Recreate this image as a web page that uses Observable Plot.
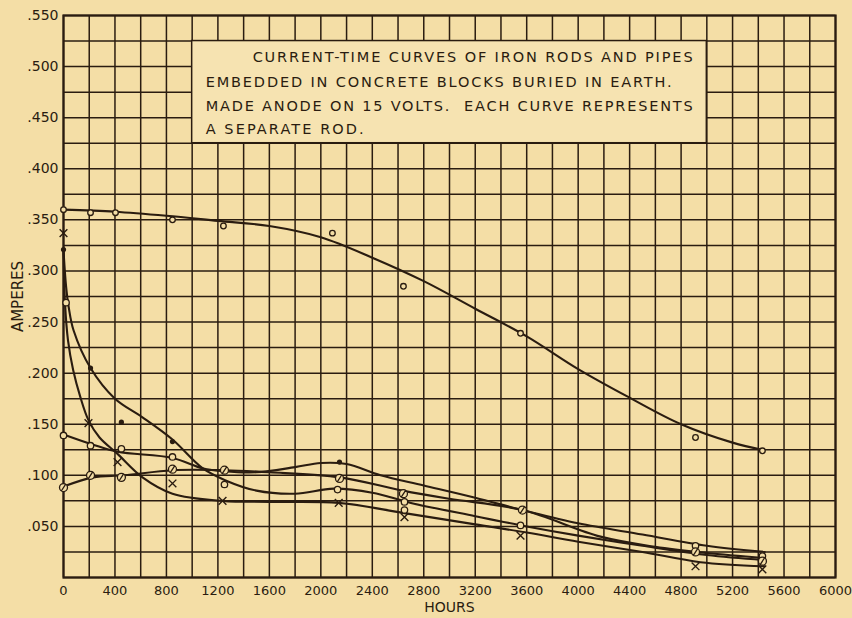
<!DOCTYPE html>
<html>
<head>
<meta charset="utf-8">
<script src="https://cdn.jsdelivr.net/npm/d3@7"></script>
<script src="https://cdn.jsdelivr.net/npm/@observablehq/plot@0.6"></script>
<style>
  html, body { margin: 0; padding: 0; background: #f4dea6; }
  #chart svg { display: block; }
</style>
</head>
<body>
<div id="chart"></div>
<script>
// ---- tick labels / grid ----
const hourTicks = d3.range(0, 6001, 400);
const ampTicks = d3.range(50, 551, 50).map(d => d / 1000);
const hourGrid = d3.range(0, 6001, 200);
const ampGrid = d3.range(0, 551, 25).map(d => d / 1000);

// ---- smooth curves (hours, amperes) ----
const curveTop = [[0,.360],[400,.358],[800,.354],[1200,.349],[1600,.344],[2000,.333],[2400,.313],[2800,.290],[3200,.263],[3600,.236],[4000,.204],[4400,.176],[4800,.150],[5200,.132],[5430,.125]];
const curveDot = [[0,.320],[20,.285],[40,.265],[78,.242],[210,.205],[400,.175],[611,.157],[847,.135],[1080,.107],[1260,.095],[1500,.085],[1800,.082],[2100,.087],[2400,.083],[2700,.073],[3200,.060],[3600,.050],[4000,.041],[4500,.031],[5000,.022],[5450,.017]];
const curveRing = [[0,.140],[230,.130],[420,.123],[847,.117],[1080,.107],[1250,.104],[1500,.103],[1800,.108],[2000,.112],[2200,.111],[2464,.100],[2800,.090],[3200,.078],[3567,.066],[4000,.053],[4500,.042],[5000,.031],[5450,.025]];
const curveSlash = [[0,.089],[230,.098],[470,.100],[847,.105],[1250,.105],[1600,.103],[2150,.098],[2635,.085],[3000,.077],[3567,.066],[4174,.040],[4600,.030],[5000,.024],[5450,.019]];
const curveCross = [[0,.320],[12,.268],[35,.232],[75,.203],[130,.177],[194,.154],[280,.137],[420,.121],[614,.098],[847,.082],[1236,.075],[1600,.074],[2139,.073],[2650,.063],[3200,.052],[3600,.044],[4000,.035],[4500,.025],[4950,.015],[5450,.011]];

// ---- observed points ----
const ptsTop = [[0,.360],[210,.357],[404,.357],[847,.350],[1243,.344],[2090,.337],[2642,.285],[3552,.239],[4912,.137],[5432,.124]];
const ptsDot = [[0,.321],[210,.205],[450,.152],[847,.133],[2145,.113]];
const ptsRing = [[0,.139],[210,.129],[450,.126],[847,.118],[1251,.091],[2130,.086],[2650,.066],[3552,.051],[4912,.031],[5432,.021],[20,.269],[2650,.074]];
const ptsSlash = [[0,.088],[210,.100],[450,.098],[847,.106],[1251,.105],[2145,.097],[2642,.082],[3567,.066],[4912,.025],[5432,.016]];
const ptsCross = [[0,.337],[194,.151],[420,.113],[847,.092],[1236,.075],[2139,.073],[2650,.059],[3552,.041],[4912,.011],[5432,.008]];

// ---- text ----
const titleLines = [
  "CURRENT-TIME CURVES OF IRON RODS AND PIPES",
  "EMBEDDED IN CONCRETE BLOCKS BURIED IN EARTH.",
  "MADE ANODE ON 15 VOLTS.  EACH CURVE REPRESENTS",
  "A SEPARATE ROD."
];
const titleWidths = [440, 466, 487, 158];
const titleBox = [{x1: 1000, x2: 5000, y1: 0.425, y2: 0.525}];
const titleX = [1470, 1105, 1105, 1105];
const titleY = [0.509, 0.4845, 0.4615, 0.439];

const ink = "#2a1c10";
const paper = "#f4dea6";
const font = "DejaVu Sans, sans-serif";

const slashCircle = {
  draw(ctx, size) {
    const r = Math.sqrt(size / Math.PI);
    ctx.moveTo(r, 0);
    ctx.arc(0, 0, r, 0, 2 * Math.PI);
    ctx.moveTo(-r * 0.55, r * 0.85);
    ctx.lineTo(r * 0.55, -r * 0.85);
  }
};

const X = d => d[0], Y = d => d[1];
const lineOpts = {x: X, y: Y, curve: "catmull-rom", stroke: ink, strokeWidth: 2.1};

const chart = Plot.plot({
  width: 852,
  height: 618,
  marginLeft: 63,
  marginRight: 17,
  marginTop: 15,
  marginBottom: 41,
  style: {background: paper, fontFamily: font, color: ink},
  x: {domain: [0, 6000], ticks: hourTicks},
  y: {domain: [0, 0.55], ticks: ampTicks},
  marks: [
    Plot.ruleX(hourGrid, {stroke: ink, strokeWidth: 1.5}),
    Plot.ruleY(ampGrid, {stroke: ink, strokeWidth: 1.5}),
    Plot.rect(titleBox, {x1: "x1", x2: "x2", y1: "y1", y2: "y2", fill: "#f6e3b1", stroke: ink, strokeWidth: 1.5}),
    Plot.text(titleLines, {x: (d, i) => titleX[i], y: (d, i) => titleY[i], text: d => d, textAnchor: "start", fontSize: 14.5, fill: ink}),
    Plot.frame({stroke: ink, strokeWidth: 2.2}),
    Plot.line(curveTop, lineOpts),
    Plot.line(curveDot, lineOpts),
    Plot.line(curveRing, lineOpts),
    Plot.line(curveSlash, lineOpts),
    Plot.line(curveCross, lineOpts),
    Plot.dot(ptsTop, {x: X, y: Y, r: 2.8, fill: paper, stroke: ink, strokeWidth: 1.3}),
    Plot.dot(ptsRing, {x: X, y: Y, r: 3.2, fill: paper, stroke: ink, strokeWidth: 1.3}),
    Plot.dot(ptsSlash, {x: X, y: Y, r: 4, symbol: slashCircle, fill: paper, stroke: ink, strokeWidth: 1.3}),
    Plot.dot(ptsCross, {x: X, y: Y, r: 3.6, symbol: "times", stroke: ink, strokeWidth: 1.4}),
    Plot.dot(ptsDot, {x: X, y: Y, r: 2.6, fill: ink, stroke: "none"}),
    Plot.axisX({ticks: hourTicks, tickSize: 0, tickPadding: 8, fontSize: 13, label: null, tickFormat: d => String(d)}),
    Plot.axisY({ticks: ampTicks, tickSize: 0, tickPadding: 5, fontSize: 14, label: null, tickFormat: d => d3.format(".3f")(d).replace(/^0/, "")}),
    Plot.text(["HOURS"], {frameAnchor: "bottom", lineAnchor: "middle", dy: 30, fontSize: 14, fill: ink, style: "letter-spacing:0.6px"}),
    Plot.text(["AMPERES"], {frameAnchor: "left", textAnchor: "middle", lineAnchor: "middle", dx: -45, rotate: -90, fontSize: 15, fill: ink, style: "letter-spacing:1.3px"})
  ]
});
// stretch title lines to the widths of the reference lettering
chart.querySelectorAll("text").forEach(t => {
  const i = titleLines.indexOf(t.textContent);
  if (i >= 0) {
    t.setAttribute("textLength", titleWidths[i]);
    t.setAttribute("lengthAdjust", "spacing");
  }
});
document.getElementById("chart").appendChild(chart);
</script>
</body>
</html>
